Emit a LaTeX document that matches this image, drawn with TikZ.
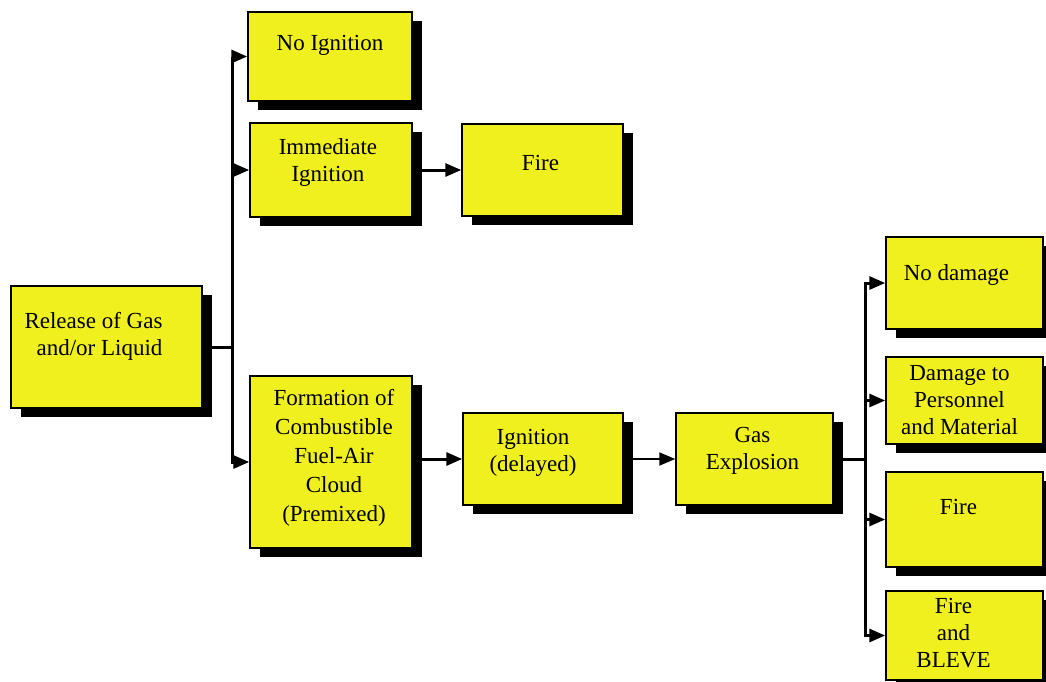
\documentclass[tikz,border=0pt]{standalone}
\usepackage{fontspec}
\setmainfont{Liberation Serif}
\usetikzlibrary{arrows.meta, positioning, shadows}
\definecolor{boxyellow}{RGB}{240, 240, 30}

\tikzset{
  box/.style={draw=black, line width=1.5pt, fill=boxyellow, inner sep=0pt,
    drop shadow={shadow xshift=10pt, shadow yshift=-9pt, fill=black, opacity=1}},
  lbl/.style={font=\fontsize{23}{27}\selectfont, align=center},
  link/.style={line width=3pt},
  arr/.style={link, -{Triangle[length=16pt, width=13pt]}},
}

\begin{document}
\begin{tikzpicture}[x=1pt, y=-1pt]
  \useasboundingbox[fill=white] (0,0) rectangle (1046,681);

  % ── Source ────────────────────────────────────────────────────────────────
  \node[box, minimum width=191, minimum height=122,
    label={[lbl, align=right, xshift=-13, yshift=11]center:{Release of Gas\\and/or Liquid}}]
    (rel) at (106.5,347) {};

  % ── First branch ──────────────────────────────────────────────────────────
  \node[box, minimum width=164, minimum height=89,
    label={[lbl, yshift=11]center:No Ignition}] (noign) at (330,56.5) {};
  \node[box, minimum width=162, minimum height=94,
    label={[lbl, xshift=-3, yshift=8]center:{Immediate\\Ignition}}] (immed) at (331,170) {};
  \node[box, minimum width=161, minimum height=92,
    label={[lbl, xshift=-2, yshift=7]center:Fire}] (fireA) at (542.5,170) {};
  \node[box, minimum width=162, minimum height=172,
    label={[lbl, font=\fontsize{23}{29}\selectfont, xshift=3, yshift=4]center:{Formation of\\Combustible\\Fuel-Air\\Cloud\\(Premixed)}}]
    (cloud) at (331,462) {};

  % ── Delayed chain ─────────────────────────────────────────────────────────
  \node[box, minimum width=160, minimum height=92,
    label={[lbl, xshift=-10, yshift=6]center:{Ignition\\(delayed)}}] (delay) at (543,459) {};
  \node[box, minimum width=157, minimum height=92,
    label={[lbl, xshift=-2, yshift=8]center:{Gas\\Explosion}}] (gasex) at (754.5,459) {};

  % ── Outcomes ──────────────────────────────────────────────────────────────
  \node[box, minimum width=157, minimum height=92,
    label={[lbl, xshift=-8, yshift=8]center:No damage}] (nodam) at (964.5,283) {};
  \node[box, minimum width=157, minimum height=87,
    label={[lbl, xshift=-5]center:{Damage to\\Personnel\\and Material}}] (dampers) at (964.5,400.5) {};
  \node[box, minimum width=157, minimum height=95,
    label={[lbl, xshift=-6, yshift=13]center:Fire}] (fireB) at (964.5,519.5) {};
  \node[box, minimum width=157, minimum height=89,
    label={[lbl, xshift=-11, yshift=2]center:{Fire\\and\\BLEVE}}] (bleve) at (964.5,635.5) {};

  % ── Connectors ────────────────────────────────────────────────────────────
  \coordinate (lsplit) at (232,347);
  \coordinate (rsplit) at (865,459);

  \draw[link] (rel.east) -- (lsplit);
  \draw[arr] (lsplit) |- (noign.west);
  \draw[arr] (lsplit) |- (immed.west);
  \draw[arr] (lsplit) |- (cloud.west);
  \draw[arr] (immed.east) -- (fireA.west);
  \draw[arr] (cloud.east |- delay.west) -- (delay.west);
  \draw[arr, line width=2pt] (delay.east) -- (gasex.west);

  \draw[link] (gasex.east) -- (rsplit);
  \foreach \outc in {nodam, dampers, fireB, bleve}
    \draw[arr] (rsplit) |- (\outc.west);
\end{tikzpicture}
\end{document}
